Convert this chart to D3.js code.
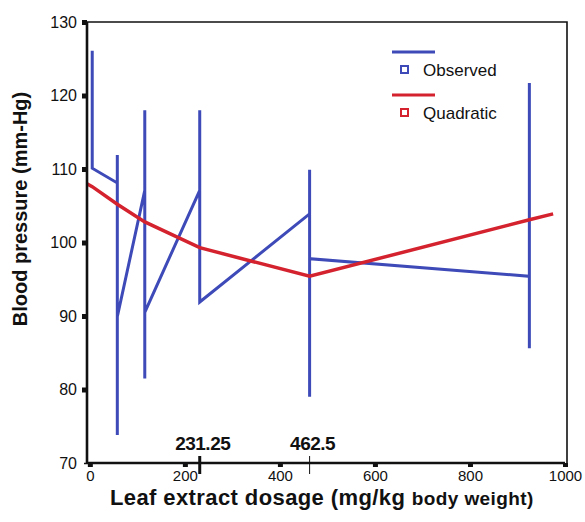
<!DOCTYPE html>
<html>
<head>
<meta charset="utf-8">
<script src="https://cdn.jsdelivr.net/npm/d3@7"></script>
<style>
  body { margin: 0; background: #fff; }
  text { font-family: "Liberation Sans", Arial, sans-serif; fill: #111; }
</style>
</head>
<body>
<div id="chart"></div>
<script>
// observed readings, drawn as one polyline in measurement order
const obsDose = [5, 5, 57.8, 57.8, 57.8, 57.8, 115.6, 115.6, 115.6, 115.6, 231.25, 231.25, 231.25, 462.5, 462.5, 462.5, 462.5, 925, 925, 925];
const obsBP   = [126.1, 110.1, 108.1, 111.9, 73.8, 89.9, 107.1, 118, 81.5, 90.5, 107.1, 118, 91.9, 103.9, 109.9, 79, 97.8, 95.4, 121.7, 85.6];

// quadratic fit, as plotted
const fitDose = [-6, 5, 57.8, 115.6, 231.25, 462.5, 925, 975];
const fitBP   = [108.0, 107.6, 105.2, 102.8, 99.3, 95.4, 103.1, 103.9];

const xTicks = [0, 200, 400, 600, 800, 1000];
const yTicks = [70, 80, 90, 100, 110, 120, 130];
const markDoses = [231.25, 462.5];
const markLabels = ['231.25', '462.5'];

const seriesNames = ['Observed', 'Quadratic'];
const seriesColors = ['#3d4ab8', '#d4232e'];

const width = 585, height = 522;
const svg = d3.select('#chart').append('svg')
    .attr('width', width)
    .attr('height', height);

const x = d3.scaleLinear().domain([-6, 1000]).range([87, 565]);
const y = d3.scaleLinear().domain([70, 130]).range([463, 22]);

// frame: thin top/right
svg.append('path')
    .attr('d', `M${x(-6)},${y(130)}H${x(1000) + 2}V${y(70)}`)
    .attr('fill', 'none')
    .attr('stroke', '#111')
    .attr('stroke-width', 1.6);

// observed line
const line = d3.line().x(d => x(d[0])).y(d => y(d[1]));
svg.append('path')
    .datum(d3.zip(obsDose, obsBP))
    .attr('d', line)
    .attr('fill', 'none')
    .attr('stroke', seriesColors[0])
    .attr('stroke-width', 3)
    .attr('stroke-linejoin', 'miter');

// fitted quadratic
svg.append('path')
    .datum(d3.zip(fitDose, fitBP))
    .attr('d', line)
    .attr('fill', 'none')
    .attr('stroke', seriesColors[1])
    .attr('stroke-width', 3.5);

// axes
const yAxis = svg.append('g')
    .attr('transform', `translate(${x(-6)},0)`)
    .call(d3.axisLeft(y).tickValues(yTicks).tickSize(5).tickPadding(5));
const xAxis = svg.append('g')
    .attr('transform', `translate(0,${y(70)})`)
    .call(d3.axisBottom(x).tickValues(xTicks).tickFormat(d3.format('d')).tickSize(4).tickPadding(3));

[yAxis, xAxis].forEach(g => {
    g.select('.domain').attr('stroke', '#111').attr('stroke-width', 2.6);
    g.selectAll('.tick line').attr('stroke', '#111').attr('stroke-width', 5);
    g.selectAll('.tick text')
        .style('font-family', '"Liberation Sans", Arial, sans-serif')
        .style('font-size', '16px')
        .attr('fill', '#222');
});
xAxis.selectAll('.tick text').style('font-size', '15px');
yAxis.select('.domain').attr('d', `M0,${y(130)}V${y(70)}`);
xAxis.select('.domain').attr('d', `M${x(-6)},0H${x(1000)}`);
yAxis.selectAll('.tick').filter(d => d === 70).select('line')
    .attr('stroke-width', 1.5).attr('x2', -3);

// marked doses on the x axis
markDoses.forEach((d, i) => {
    svg.append('line')
        .attr('x1', x(d)).attr('x2', x(d))
        .attr('y1', y(70) - 7).attr('y2', y(70) + 11)
        .attr('stroke', '#111')
        .attr('stroke-width', i === 0 ? 3 : 1);
    svg.append('text')
        .attr('x', x(d) + 3)
        .attr('y', 450)
        .attr('text-anchor', 'middle')
        .style('font-size', '19px')
        .style('font-weight', 'bold')
        .style('letter-spacing', '-0.5px')
        .text(markLabels[i]);
});

// legend
const legend = svg.append('g');
seriesNames.forEach((name, i) => {
    const yy = 52 + i * 43;
    legend.append('line')
        .attr('x1', 392).attr('x2', 435)
        .attr('y1', yy).attr('y2', yy)
        .attr('stroke', seriesColors[i])
        .attr('stroke-width', 3);
    legend.append('rect')
        .attr('x', 401).attr('y', yy + 14)
        .attr('width', 7).attr('height', 7)
        .attr('fill', 'none')
        .attr('stroke', seriesColors[i])
        .attr('stroke-width', 2);
    legend.append('text')
        .attr('x', 423).attr('y', yy + 18)
        .attr('dy', '0.35em')
        .style('font-size', '17px')
        .text(name);
});

// axis titles
const xt = svg.append('text')
    .attr('x', 110).attr('y', 505)
    .style('font-weight', 'bold')
    .style('font-size', '22px')
    .style('letter-spacing', '0.4px');
xt.append('tspan').text('Leaf extract dosage (mg/kg ');
xt.append('tspan').style('font-size', '19px').text('body weight)');

svg.append('text')
    .attr('transform', 'translate(27,209) rotate(-90)')
    .attr('text-anchor', 'middle')
    .style('font-weight', 'bold')
    .style('font-size', '20px')
    .text('Blood pressure (mm-Hg)');
</script>
</body>
</html>
